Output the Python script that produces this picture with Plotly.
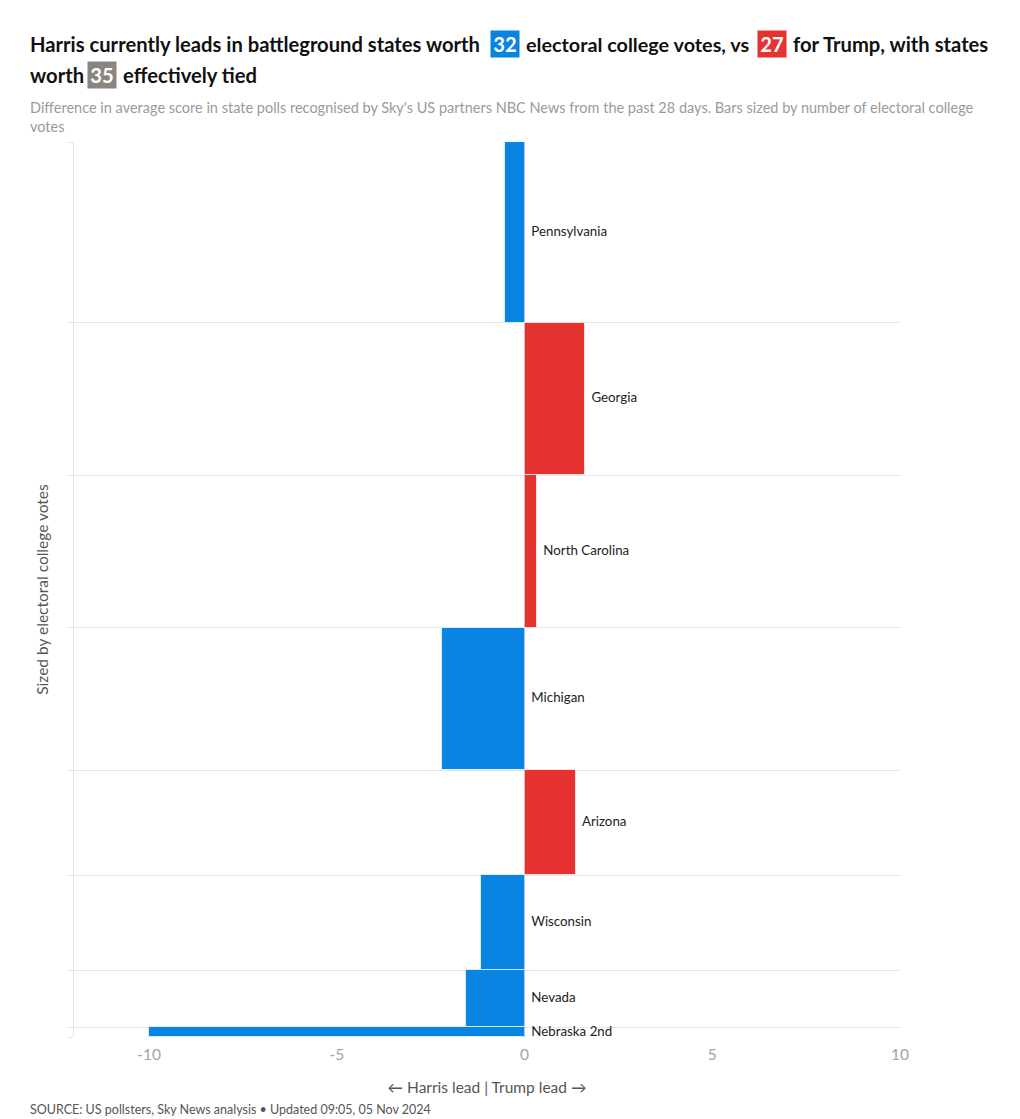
import plotly.graph_objects as go

states = ["Pennsylvania", "Georgia", "North Carolina", "Michigan", "Arizona", "Wisconsin", "Nevada", "Nebraska 2nd"]
votes = [19, 16, 16, 15, 11, 10, 6, 1]
margin = [-0.53, 1.6, 0.32, -2.2, 1.36, -1.17, -1.57, -10.0]
lead = ["H", "T", "T", "H", "T", "H", "H", "H"]
xticks = [-10, -5, 0, 5, 10]
xticklabels = ["-10", "-5", "0", "5", "10"]

BLUE = "#0984e3"
RED = "#e63131"
GREY = "#8a857f"
colors = [BLUE if l == "H" else RED for l in lead]

bounds = [0]
for v in votes:
    bounds.append(bounds[-1] + v)
centers = [(bounds[i] + bounds[i + 1]) / 2 for i in range(len(votes))]
total = bounds[-1]

OFF = 8  # page body margin
W, H = 1020 - OFF, 1119 - OFF
L, T = 74 - OFF, 142 - OFF
R = W - (900 - OFF)
B = H - (1037 - OFF)
pw, ph = W - L - R, H - T - B

def px(x):
    return (x - OFF - L) / pw

def py(y):
    return (H - B - (y - OFF)) / ph

FONT = "Lato"

fig = go.Figure()
fig.add_trace(go.Bar(
    y=centers, x=margin, width=votes, orientation="h",
    marker=dict(color=colors, line=dict(color="rgba(255,255,255,0.7)", width=1)),
    hoverinfo="skip", showlegend=False,
))
fig.add_trace(go.Scatter(
    y=centers, x=[max(m, 0) for m in margin], mode="text",
    text=["  " + s for s in states], textposition="middle right",
    textfont=dict(family=FONT, size=13.3, color="#222"),
    hoverinfo="skip", showlegend=False,
))

fig.update_layout(
    width=W, height=H, margin=dict(l=L, r=R, t=T, b=B),
    plot_bgcolor="white", paper_bgcolor="white",
    font=dict(family=FONT),
    bargap=0,
    xaxis=dict(range=[-12, 10], tickvals=xticks, ticktext=xticklabels, showgrid=False,
               zeroline=True, zerolinecolor="#222", zerolinewidth=1,
               tickfont=dict(size=15.5, color="#a3a3a3"), ticks="", ticklabelstandoff=6,
               title=dict(text="← Harris lead | Trump lead →", font=dict(size=15.5, color="#555"), standoff=20)),
    yaxis=dict(range=[total, 0], tickvals=bounds, showticklabels=False,
               ticks="outside", ticklen=6, tickcolor="#e6e6e6",
               showgrid=True, gridcolor="#e6e6e6", gridwidth=1,
               showline=True, linecolor="#e6e6e6", linewidth=1, zeroline=False,
               title=dict(text="Sized by electoral college votes", font=dict(size=15.5, color="#555"), standoff=14)),
)

tfont = dict(family=FONT, size=20.2, color="#111", weight=700)
tfont2 = dict(family=FONT, size=19.8, color="#111", weight=700)
bfont = dict(family=FONT, size=20.2, color="white", weight=700)
ann = []
def chunk(text, x, y, font=tfont, anchor="left", **kw):
    ann.append(dict(text=text, x=px(x), y=py(y), xref="paper", yref="paper",
                    xanchor=anchor, yanchor="middle", showarrow=False, font=font, **kw))

HS = "\u200a"
chunk("Harris currently leads in battleground states worth", 28, 44)
chunk(HS + "32" + HS, 505, 44, font=bfont, anchor="center", bgcolor=BLUE, borderpad=1)
chunk("electoral college votes, vs", 524, 44, font=tfont2)
chunk(HS + "27" + HS, 772, 44, font=bfont, anchor="center", bgcolor=RED, borderpad=1)
chunk("for Trump, with states", 791, 44)
chunk("worth", 28, 75)
chunk(HS + "35" + HS, 102, 75, font=bfont, anchor="center", bgcolor=GREY, borderpad=1)
chunk("effectively tied", 121, 75)

ann.append(dict(text="Difference in average score in state polls recognised by Sky's US partners NBC News from the past 28 days. Bars sized by number of electoral college<br>votes",
                x=px(28), y=py(97), xref="paper", yref="paper", xanchor="left", yanchor="top",
                align="left", showarrow=False, font=dict(family=FONT, size=14.5, color="#9a9a9a")))
ann.append(dict(text="SOURCE: US pollsters, Sky News analysis • Updated 09:05, 05 Nov 2024",
                x=px(28), y=py(1119), xref="paper", yref="paper", xanchor="left", yanchor="bottom",
                align="left", showarrow=False, font=dict(family=FONT, size=12.5, color="#555")))
fig.update_layout(annotations=ann)

fig.write_html("out.html")
